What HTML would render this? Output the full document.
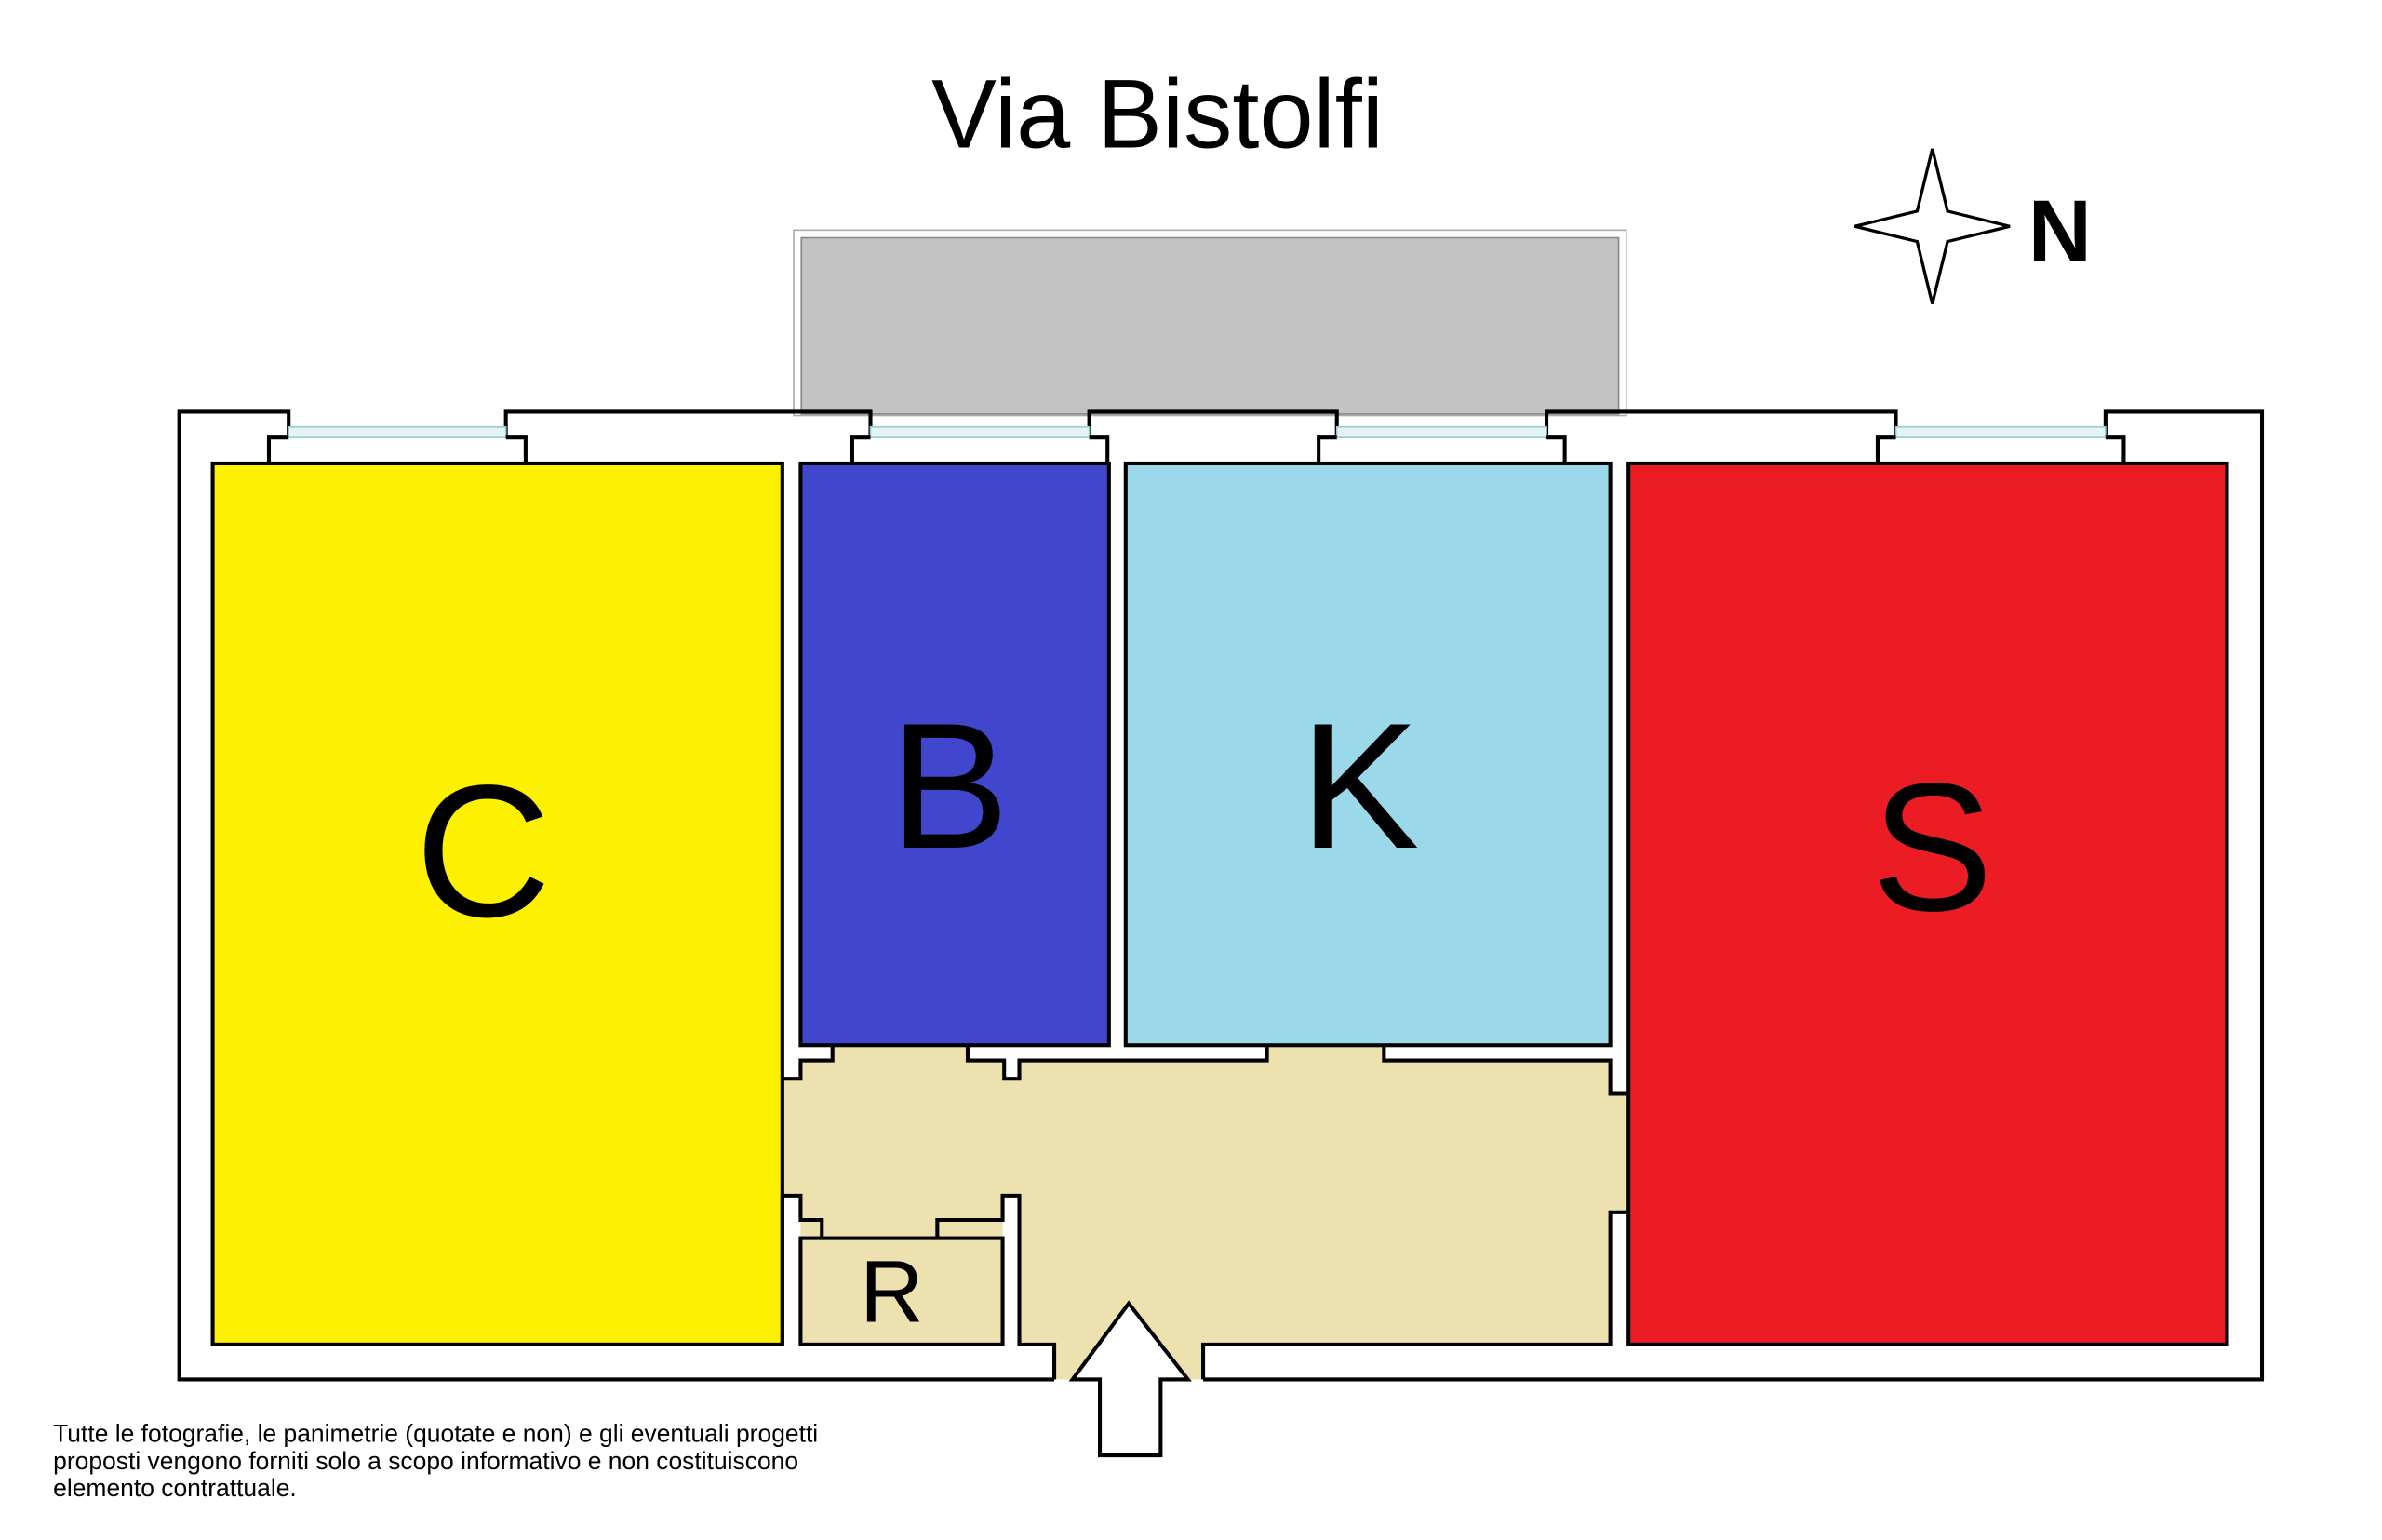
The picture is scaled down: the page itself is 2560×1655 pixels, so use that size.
<!DOCTYPE html>
<html><head><meta charset="utf-8"><style>
html,body{margin:0;padding:0;background:#fff;}
svg{display:block;}
text{font-family:"Liberation Sans",sans-serif;}
</style></head><body>
<svg width="2560" height="1655" viewBox="0 0 1568 1013.7" preserveAspectRatio="none" xmlns="http://www.w3.org/2000/svg">
<rect width="1568" height="1013.7" fill="#fff"/>
<text x="762" y="97" font-size="64" text-anchor="middle" fill="#000">Via Bistolfi</text>
<!-- balcony -->
<rect x="522.5" y="151.5" width="548" height="122" fill="#fff" stroke="#aaa" stroke-width="1"/>
<rect x="527.5" y="156.5" width="538" height="116" fill="#c3c3c3" stroke="#888" stroke-width="1"/>
<!-- outer shell -->
<g stroke="#000" stroke-width="2.5" fill="none">
<polyline points="190,288 190,271 118,271 118,908 694,908"/>
<polyline points="792,908 1489,908 1489,271 1386,271 1386,288"/>
<polyline points="333,288 333,271 573,271 573,288"/>
<polyline points="717,288 717,271 880,271 880,288"/>
<polyline points="1018,288 1018,271 1248,271 1248,288"/>
</g>
<!-- windows -->
<g fill="#e6f4f8" stroke="#9cc" stroke-width="1">
<rect x="190" y="281" width="143" height="7"/>
<rect x="573" y="281" width="144" height="7"/>
<rect x="880" y="281" width="138" height="7"/>
<rect x="1248" y="281" width="138" height="7"/>
</g>
<g stroke="#000" stroke-width="2.5" fill="none">
<polyline points="190,288 177,288 177,305"/>
<polyline points="333,288 346,288 346,305"/>
<polyline points="573,288 561,288 561,305"/>
<polyline points="717,288 729,288 729,305"/>
<polyline points="880,288 868,288 868,305"/>
<polyline points="1018,288 1030,288 1030,305"/>
<polyline points="1248,288 1236,288 1236,305"/>
<polyline points="1386,288 1398,288 1398,305"/>
</g>
<!-- hall -->
<polygon points="515,688 1072,688 1072,885 792,885 792,908 694,908 694,885 515,885" fill="#ede1b0"/>
<!-- wall fills (white) -->
<g fill="#fff">
<polygon points="515,710 527,710 527,698 548,698 548,688 515,688"/>
<polygon points="637,688 637,698 661,698 661,710 671,710 671,698 834,698 834,688"/>
<polygon points="911,688 911,698 1060,698 1060,720 1072,720 1072,688"/>
<polygon points="1072,798 1060,798 1060,885 1072,885"/>
<polygon points="660,787 671,787 671,885 694,885 694,906 660,906"/>
<polygon points="515,787 527,787 527,885 515,885"/>
</g>
<!-- rooms -->
<g stroke="#000" stroke-width="2.5">
<rect x="140" y="305" width="375" height="580" fill="#fdf000"/>
<rect x="527" y="305" width="203" height="383" fill="#4147cc"/>
<rect x="741" y="305" width="319" height="383" fill="#9bd8ea"/>
<rect x="1072" y="305" width="394" height="580" fill="#ec1c24"/>
<rect x="527" y="815" width="133" height="70" fill="#ede1b0"/>
</g>
<!-- interior wall outlines -->
<g stroke="#000" stroke-width="2.5" fill="none">
<polyline points="515,710 527,710 527,698 548,698 548,688"/>
<polyline points="637,688 637,698 661,698 661,710 671,710 671,698 834,698 834,688"/>
<polyline points="911,688 911,698 1060,698 1060,720 1072,720"/>
<polyline points="1072,798 1060,798 1060,885 792,885 792,908"/>
<polyline points="694,908 694,885 671,885 671,787 660,787 660,803 617,803 617,815"/>
<polyline points="541,815 541,803 527,803 527,787 515,787 515,885"/>
</g>
<!-- entrance arrow -->
<polygon points="743,858 782,908 764,908 764,958 724,958 724,908 706,908" fill="#fff" stroke="#000" stroke-width="2.5"/>
<!-- labels -->
<text x="318" y="603" font-size="124" text-anchor="middle">C</text>
<text x="625" y="558" font-size="118" text-anchor="middle">B</text>
<text x="895" y="558" font-size="118" text-anchor="middle">K</text>
<text x="1272" y="599" font-size="120" text-anchor="middle">S</text>
<text x="587" y="870" font-size="58" text-anchor="middle">R</text>
<!-- compass -->
<polygon points="1272,98 1282,139 1323,149 1282,159 1272,200 1262,159 1221,149 1262,139" fill="#fff" stroke="#000" stroke-width="2"/>
<text x="1356" y="172" font-size="58" font-weight="bold" text-anchor="middle">N</text>
<!-- disclaimer -->
<g font-size="16.2" fill="#000">
<text x="35" y="949">Tutte le fotografie, le panimetrie (quotate e non) e gli eventuali progetti</text>
<text x="35" y="967">proposti vengono forniti solo a scopo informativo e non costituiscono</text>
<text x="35" y="985">elemento contrattuale.</text>
</g>
</svg>
</body></html>
